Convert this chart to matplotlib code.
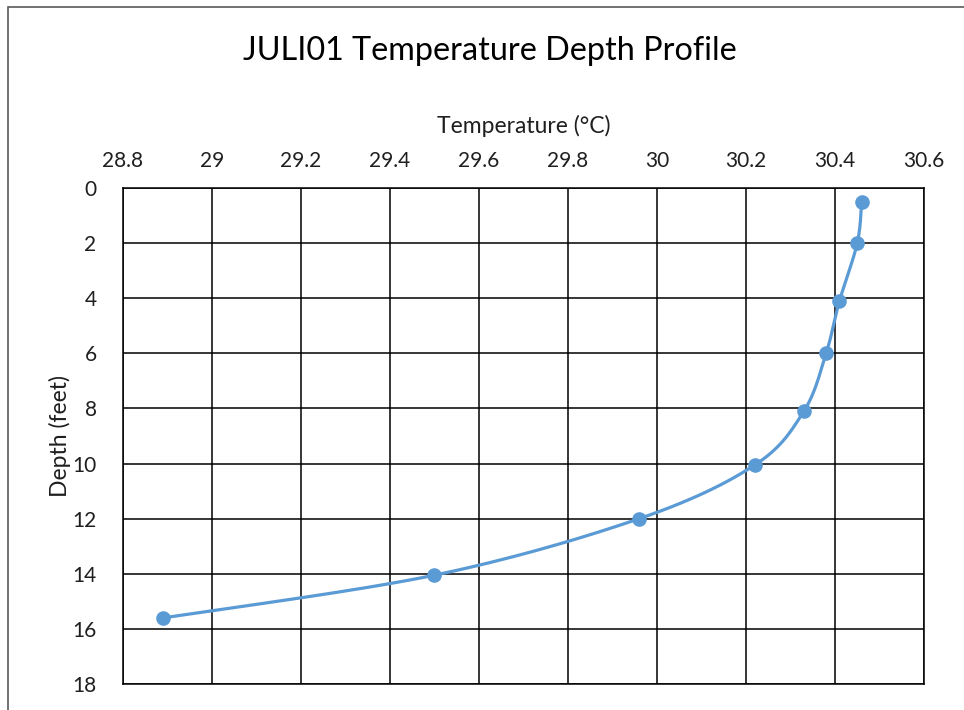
import numpy as np
import matplotlib
matplotlib.use('Agg')
import matplotlib.pyplot as plt
from matplotlib.patches import Rectangle

# Temperature (deg C) read at each measured depth (feet)
temperature = [30.46, 30.45, 30.41, 30.38, 30.33, 30.22, 29.96, 29.50, 28.89]
depth = [0.5, 2.0, 4.1, 6.0, 8.1, 10.05, 12.0, 14.05, 15.6]

x_ticks = [28.8, 29.0, 29.2, 29.4, 29.6, 29.8, 30.0, 30.2, 30.4, 30.6]
x_labels = ['28.8', '29', '29.2', '29.4', '29.6', '29.8', '30', '30.2', '30.4', '30.6']
y_ticks = [0, 2, 4, 6, 8, 10, 12, 14, 16, 18]

LINE_BLUE = '#5B9BD5'
TEXT = '#1f1f1f'
plt.rcParams['font.family'] = ['Lato', 'DejaVu Sans']


def smooth_path(ax, xs, ys, steps=30):
    '''Excel style smoothed line: cubic bezier per segment, built in screen space'''
    pts = ax.transData.transform(np.column_stack([xs, ys]))
    n = len(pts)
    out = []
    for i in range(n - 1):
        p0 = pts[max(i - 1, 0)]
        p1 = pts[i]
        p2 = pts[i + 1]
        p3 = pts[min(i + 2, n - 1)]
        c1 = p1 + (p2 - p0) / 6.0
        c2 = p2 - (p3 - p1) / 6.0
        t = np.linspace(0, 1, steps)[:, None]
        seg = ((1 - t) ** 3) * p1 + 3 * ((1 - t) ** 2) * t * c1 + 3 * (1 - t) * t ** 2 * c2 + t ** 3 * p2
        out.append(seg if i == 0 else seg[1:])
    out = np.vstack(out)
    return ax.transData.inverted().transform(out)


fig = plt.figure(figsize=(9.64, 7.10), dpi=100)
ax = fig.add_axes([123 / 964, 1 - 684 / 710, 801 / 964, 496 / 710])

ax.set_xlim(28.8, 30.6)
ax.set_ylim(18, 0)
ax.xaxis.tick_top()
ax.xaxis.set_label_position('top')
ax.set_xticks(x_ticks)
ax.set_xticklabels(x_labels)
ax.set_yticks(y_ticks)
ax.tick_params(length=0, labelsize=15, colors=TEXT, pad=19)
ax.tick_params(axis='x', pad=12)
ax.grid(True, color='black', linewidth=1.1)
ax.set_axisbelow(True)
for sp in ax.spines.values():
    sp.set_color('black')
    sp.set_linewidth(1.1)

ax.set_xlabel('Temperature (°C)', fontsize=16.5, color=TEXT, labelpad=13)
ax.set_ylabel('Depth (feet)', fontsize=16.5, color=TEXT, labelpad=1)

curve = smooth_path(ax, temperature, depth)
ax.plot(curve[:, 0], curve[:, 1], color=LINE_BLUE, linewidth=2.3, solid_capstyle='round', clip_on=False, zorder=3)
ax.plot(temperature, depth, linestyle='none', marker='o', markersize=9.5, color=LINE_BLUE, clip_on=False, zorder=4)

fig.text(490 / 964, 1 - 60 / 710, 'JULI01 Temperature Depth Profile', fontsize=23.3,
         color='black', ha='center', va='baseline')

# chart frame (cut off at the right and bottom in the reference)
fig.patches.append(Rectangle((7.5 / 964, -0.05), 1.0, 1 - 6.5 / 710 + 0.05, transform=fig.transFigure,
                             fill=False, edgecolor='#595959', linewidth=1.2))

fig.savefig('out.png', dpi=100)
